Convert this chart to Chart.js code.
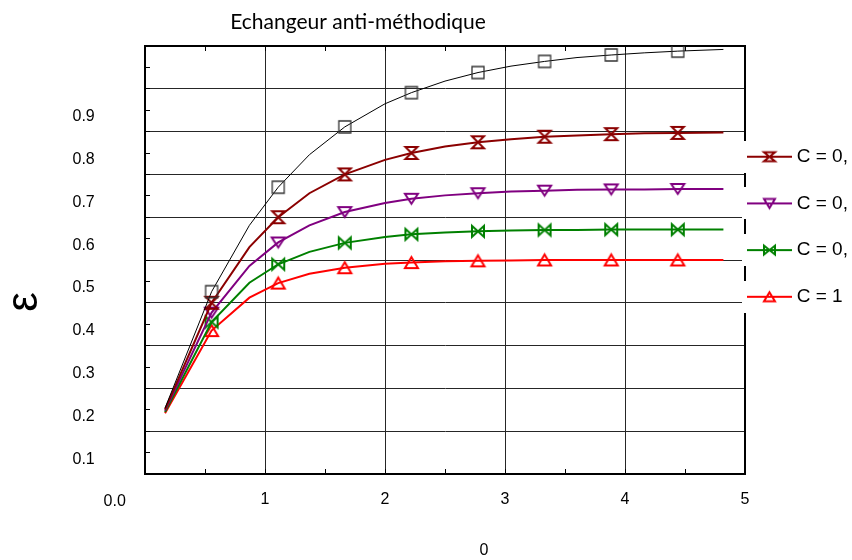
<!DOCTYPE html>
<html>
<head>
<meta charset="utf-8">
<script src="https://cdn.jsdelivr.net/npm/chart.js@4/dist/chart.umd.min.js"></script>
<style>
html, body { margin: 0; padding: 0; background: #ffffff; }
#wrap { width: 852px; height: 560px; }
canvas { display: block; }
</style>
</head>
<body>
<div id="wrap"><canvas id="chart" width="852" height="560"></canvas></div>
<script>
// ---------- DATA ----------
const chartTitle = 'Echangeur anti-méthodique';
const xAxisTitle = '0';
const yAxisTitle = 'ε';
const ntu = [0.167, 0.555, 0.87, 1.11, 1.37, 1.665, 2.0, 2.22, 2.5, 2.775, 3.05, 3.33, 3.6, 3.885, 4.16, 4.44, 4.82];
const markerNtu = [0.555, 1.11, 1.665, 2.22, 2.775, 3.33, 3.885, 4.44];
const epsC0   = [0.154, 0.426, 0.581, 0.670, 0.746, 0.811, 0.865, 0.891, 0.918, 0.938, 0.953, 0.964, 0.973, 0.979, 0.984, 0.988, 0.992];
const epsC025 = [0.151, 0.400, 0.530, 0.600, 0.656, 0.700, 0.734, 0.750, 0.765, 0.775, 0.782, 0.788, 0.791, 0.794, 0.796, 0.797, 0.798];
const epsC05  = [0.148, 0.377, 0.486, 0.541, 0.581, 0.612, 0.633, 0.643, 0.651, 0.656, 0.660, 0.662, 0.664, 0.665, 0.665, 0.666, 0.666];
const epsC075 = [0.145, 0.355, 0.447, 0.490, 0.519, 0.540, 0.554, 0.560, 0.564, 0.567, 0.569, 0.570, 0.570, 0.571, 0.571, 0.571, 0.571];
const epsC1   = [0.142, 0.335, 0.412, 0.446, 0.468, 0.482, 0.491, 0.494, 0.497, 0.498, 0.499, 0.500, 0.500, 0.500, 0.500, 0.500, 0.500];
const seriesLabels = ['C = 0', 'C = 0,', 'C = 0,', 'C = 0,', 'C = 1'];
const xTickValues = [1, 2, 3, 4, 5];
const xTickLabels = ['1', '2', '3', '4', '5'];
const yTickValues = [0, 0.1, 0.2, 0.3, 0.4, 0.5, 0.6, 0.7, 0.8, 0.9];
const yTickLabels = ['0.0', '0.1', '0.2', '0.3', '0.4', '0.5', '0.6', '0.7', '0.8', '0.9'];

// ---------- STYLE ----------
const FONT = 'Liberation Sans, Arial, sans-serif';
const GRID = '#262626';

function drawShape(g, shape, cx, cy, w, h) {
  const l = cx - w / 2, r = cx + w / 2, t = cy - h / 2, b = cy + h / 2;
  g.beginPath();
  if (shape === 'square') { g.rect(l, t, w, h); }
  else if (shape === 'hourglass') { g.moveTo(l, t); g.lineTo(r, t); g.lineTo(l, b); g.lineTo(r, b); g.closePath(); }
  else if (shape === 'triDown') { g.moveTo(l, t); g.lineTo(r, t); g.lineTo(cx, b); g.closePath(); }
  else if (shape === 'bowtie') { g.moveTo(l, t); g.lineTo(r, b); g.lineTo(r, t); g.lineTo(l, b); g.closePath(); }
  else if (shape === 'triUp') { g.moveTo(cx, t); g.lineTo(r, b); g.lineTo(l, b); g.closePath(); }
  g.stroke();
}
function markerImage(shape, color, w, h, lw) {
  const pad = Math.ceil(lw) + 1;
  const cv = document.createElement('canvas');
  cv.width = w + 2 * pad; cv.height = h + 2 * pad;
  const g = cv.getContext('2d');
  g.strokeStyle = color; g.lineWidth = lw; g.lineJoin = 'miter';
  drawShape(g, shape, cv.width / 2, cv.height / 2, w, h);
  return cv;
}
function legendImage(shape, color, w, h) {
  const cv = document.createElement('canvas');
  cv.width = 55; cv.height = 32;
  const g = cv.getContext('2d');
  g.fillStyle = '#ffffff'; g.fillRect(0, 0, 55, 32);
  g.strokeStyle = color; g.lineWidth = 2;
  g.beginPath(); g.moveTo(5, 16); g.lineTo(50, 16); g.stroke();
  drawShape(g, shape, 27.5, 16, w, h);
  return cv;
}

const seriesStyle = [
  { color: '#000000', width: 1, shape: 'square',    mark: '#333333', mw: 12, mh: 12, mlw: 1.3 },
  { color: '#8B0000', width: 2, shape: 'hourglass', mark: '#8B0000', mw: 12, mh: 12, mlw: 2 },
  { color: '#800080', width: 2, shape: 'triDown',   mark: '#800080', mw: 13, mh: 10, mlw: 2 },
  { color: '#008000', width: 2, shape: 'bowtie',    mark: '#008000', mw: 12, mh: 11, mlw: 2 },
  { color: '#FF0000', width: 2, shape: 'triUp',     mark: '#FF0000', mw: 13, mh: 11, mlw: 2 }
];
const seriesValues = [epsC0, epsC025, epsC05, epsC075, epsC1];
const legendMarks = seriesStyle.map((s, i) => i === 0 ? null : legendImage(s.shape, s.mark, 11, 9));

const datasets = seriesValues.map((vals, i) => {
  const s = seriesStyle[i];
  return {
    label: seriesLabels[i],
    data: ntu.map((x, k) => ({ x: x, y: vals[k] })),
    borderColor: s.color,
    backgroundColor: s.color,
    borderWidth: s.width,
    tension: 0,
    pointStyle: markerImage(s.shape, s.mark, s.mw, s.mh, s.mlw),
    pointRadius: (ctx) => markerNtu.includes(ntu[ctx.dataIndex]) ? 6 : 0,
    pointHoverRadius: 0,
    xAxisID: 'x',
    yAxisID: 'y'
  };
});

const r2 = v => Math.round(v * 100);
const isTenth = v => r2(v) % 10 === 0;

const layoutTweaks = {
  id: 'layoutTweaks',
  afterLayout(chart) {
    const t = chart.titleBlock;
    if (t) { t.left = 0; t.right = 716; }
    const lg = chart.legend;
    if (lg) { lg.left = 724.1; lg.top = 119.5; }
    const xt = chart.scales.xt;
    if (xt) { xt.left += 39; xt.right += 39; }
    const yt = chart.scales.yt;
    if (yt) { yt.top += 42; yt.bottom += 42; }
  }
};

new Chart(document.getElementById('chart'), {
  type: 'line',
  data: { datasets: datasets },
  plugins: [layoutTweaks],
  options: {
    responsive: false,
    animation: false,
    devicePixelRatio: 1,
    events: [],
    layout: { padding: 0, autoPadding: false },
    plugins: {
      tooltip: { enabled: false },
      title: {
        display: true,
        text: chartTitle,
        color: '#000000',
        font: { family: 'Lato, Carlito, sans-serif', size: 21, weight: 'normal', lineHeight: 1.2 },
        padding: { top: 10.1, bottom: 10.7 }
      },
      legend: {
        display: true,
        position: 'right',
        align: 'start',
        fullSize: false,
        maxWidth: 107,
        labels: {
          usePointStyle: true,
          pointStyleWidth: 35.4,
          padding: 27.7,
          color: '#000000',
          font: { family: FONT, size: 19 },
          generateLabels: (chart) => chart.data.datasets.map((ds, i) => ({
            text: ds.label,
            pointStyle: legendMarks[i],
            fillStyle: seriesStyle[i].color,
            strokeStyle: seriesStyle[i].color,
            lineWidth: 0,
            hidden: false,
            datasetIndex: i,
            fontColor: '#000000'
          })).filter(it => it.datasetIndex !== 0)
        }
      }
    },
    scales: {
      x: {
        type: 'linear', position: 'bottom', min: 0, max: 5,
        afterFit: (s) => { s.height = 40; },
        ticks: {
          stepSize: 0.5, autoSkip: false, maxRotation: 0, padding: 21.4,
          color: '#000000', font: { family: FONT, size: 16 },
          callback: (v) => { const i = xTickValues.findIndex(t => r2(t) === r2(v)); return i >= 0 ? xTickLabels[i] : ''; }
        },
        grid: {
          color: (ctx) => { const v = ctx.tick.value; return (r2(v) % 100 === 0 && v > 0 && v < 5) ? GRID : 'rgba(0,0,0,0)'; },
          tickColor: '#000000', tickLength: -5, lineWidth: 1
        },
        border: { color: '#000000', width: 2 }
      },
      xt: {
        type: 'linear', position: 'bottom', min: 0, max: 1,
        afterFit: (s) => { s.height = 46; },
        ticks: { display: false },
        grid: { display: false },
        border: { display: false },
        title: { display: true, text: xAxisTitle, color: '#000000', font: { family: FONT, size: 16 }, padding: { top: 0, bottom: 0 } }
      },
      x2: {
        type: 'linear', position: 'top', min: 0, max: 5,
        afterFit: (s) => { s.height = 0; },
        ticks: { display: false, stepSize: 0.5 },
        grid: { color: 'rgba(0,0,0,0)', tickColor: '#000000', tickLength: -5 },
        border: { color: '#000000', width: 2 }
      },
      y: {
        type: 'linear', position: 'left', min: 0, max: 1,
        afterFit: (s) => { s.width = 72.5; },
        ticks: {
          stepSize: 0.05, autoSkip: false, padding: 0, labelOffset: 28, crossAlign: 'far',
          color: '#000000', font: { family: FONT, size: 16 },
          callback: (v) => {
            const i = yTickValues.findIndex(t => r2(t) === r2(v));
            if (i < 0) return '';
            return i === 0 ? '       ' + yTickLabels[i] : yTickLabels[i];
          }
        },
        grid: {
          color: (ctx) => { const v = ctx.tick.value; return (isTenth(v) && r2(v) > 0 && r2(v) < 100) ? GRID : 'rgba(0,0,0,0)'; },
          tickColor: '#000000', tickLength: -5, lineWidth: 1
        },
        border: { color: '#000000', width: 2 }
      },
      yt: {
        type: 'linear', position: 'left', min: 0, max: 1,
        afterFit: (s) => { s.width = 72.5; },
        ticks: { display: false },
        grid: { display: false },
        border: { display: false },
        title: { display: true, text: yAxisTitle, color: '#000000', font: { family: FONT, size: 44, lineHeight: 0.9 }, padding: { top: 5, bottom: 0 } }
      },
      y2: {
        type: 'linear', position: 'right', min: 0, max: 1,
        afterFit: (s) => { s.width = 0; },
        ticks: { display: false },
        grid: { color: 'rgba(0,0,0,0)', drawTicks: false },
        border: { color: '#000000', width: 2, z: -1 }
      }
    }
  }
});
</script>
</body>
</html>
